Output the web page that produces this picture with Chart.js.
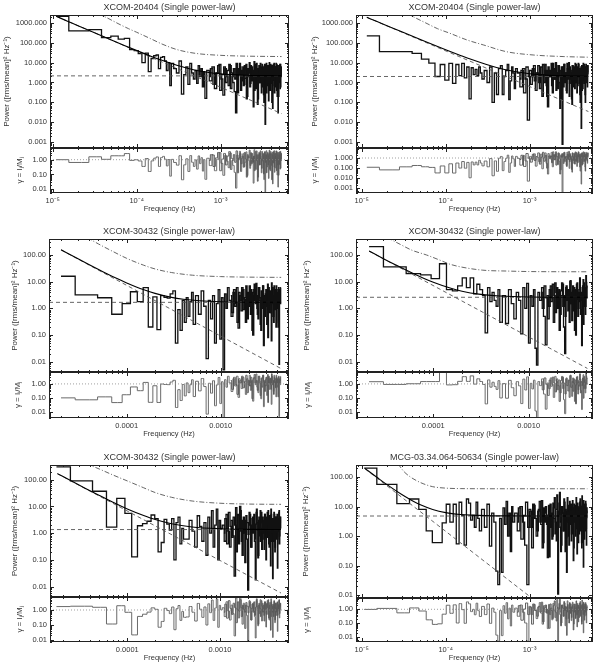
<!DOCTYPE html>
<html>
<head>
<meta charset="utf-8">
<title>Periodograms, single power-law fits</title>
<script src="https://cdn.jsdelivr.net/npm/chart.js@4.4.1/dist/chart.umd.min.js"></script>
<style>
  body { margin: 0; background: #fff; }
  #figure { position: relative; width: 600px; height: 664px; overflow: hidden; }
  #figure div { position: absolute; }
</style>
</head>
<body>
<div id="figure"></div>
<script>
// ---------- tick labels ----------
const powTicksWide = [0.001, 0.01, 0.1, 1, 10, 100, 1000];
const powLabelsWide = ['0.001', '0.010', '0.100', '1.000', '10.000', '100.000', '1000.000'];
const powTicks = [0.01, 0.1, 1, 10, 100];
const powLabels = ['0.01', '0.10', '1.00', '10.00', '100.00'];
const ratioTicksWide = [0.001, 0.01, 0.1, 1];
const ratioLabelsWide = ['0.001', '0.010', '0.100', '1.000'];
const ratioTicks = [0.01, 0.1, 1];
const ratioLabels = ['0.01', '0.10', '1.00'];
const freqTicksPow = [1e-5, 1e-4, 1e-3];
const freqLabelsPow = ['10⁻⁵', '10⁻⁴', '10⁻³'];
const freqTicksDec = [1e-4, 1e-3];
const freqLabelsDec = ['0.0001', '0.0010'];

// ---------- XCOM-20404 (left) ----------
// frequency bins: [first, last, stride] in units of the resolution df (Hz)
const p1Grid = [[1, 24, 1], [26, 60, 2], [64, 479, 5]];
const p1GridB = [[66, 481, 5]];
const p1Df = 1.1e-5;
const p1Power = [2100, 390, 450, 180, 210, 150, 165, 45, 40, 28, 10, 30, 3.5, 16, 22, 24, 5, 18, 20, 12, 4, 10, 0.7, 9,
  5, 3, 12, 0.26, 2.5, 6, 0.8, 9, 3, 1.5, 4, 0.9, 7, 2, 5, 0.6, 3.5, 0.16,
  4, 1.2, 6, 0.5, 3, 8, 1.5, 0.23, 5, 2,
  0.7, 7, 3, 1, 0.35, 0.03, 5, 2.5, 9, 0.4,
  3, 6, 0.8, 1.6, 8, 0.2, 4, 2, 0.6, 7,
  1.2, 3, 0.06, 11, 2, 0.5, 9, 3.5, 0.15, 5,
  1, 6, 2.5, 0.3, 8, 1.8, 4, 0.1, 7, 0.008,
  3, 9, 0.7, 2, 5, 0.12, 6, 1.5, 0.4, 8,
  2.5, 0.9, 7, 0.05, 4, 1.3, 9, 0.3, 3, 6,
  0.6, 2, 8, 0.2, 5, 0.03, 3, 7, 1, 4,
  0.5, 8, 2, 6];
const p1PowerB = [2, 5, 0.8, 3, 7, 0.4, 2.5, 6, 1, 4,
  8, 0.5, 2, 5, 1.5, 9, 0.3, 3, 6, 1.2,
  4, 0.7, 7, 2.5, 0.15, 5, 3, 10, 0.9, 2,
  6, 1.5, 4, 0.4, 8, 2, 5, 0.08, 3, 7,
  1, 9, 2.5, 0.6, 4, 6, 0.25, 3, 8, 1.5,
  5, 0.3, 2, 7, 1, 4, 10, 0.5, 3, 6,
  2, 0.1, 5, 1.5, 8, 3, 0.7, 6, 2, 4,
  9, 0.4, 3, 1, 7, 2.5, 0.2, 5, 1.2, 8,
  3, 0.6, 6, 2];
const p1Ratio = [1.0, 0.65, 1.57, 1.06, 1.84, 1.83, 2.6, 0.9, 0.99, 0.82, 0.35, 1.2, 0.16, 0.83, 1.27, 1.54, 0.35, 1.38, 1.67, 1.08, 0.38, 1.03, 0.077, 1.05,
  0.65, 0.43, 1.86, 0.044, 0.45, 1.15, 0.16, 1.9, 0.67, 0.35, 0.97, 0.23, 1.8, 0.54, 1.38, 0.17, 1.01, 0.047,
  1.25, 0.4, 2.07, 0.18, 1.09, 2.96, 0.57, 0.088, 1.95, 0.79,
  0.29, 2.86, 1.22, 0.41, 0.14, 0.012, 2.04, 1.02, 3.67, 0.16,
  1.28, 2.55, 0.34, 0.68, 3.4, 0.085, 1.7, 0.85, 0.26, 2.98,
  0.53, 1.32, 0.026, 4.8, 0.88, 0.22, 3.95, 1.54, 0.066, 2.19,
  0.45, 2.68, 1.12, 0.13, 3.57, 0.8, 1.79, 0.045, 3.13, 0.0036,
  1.36, 4.07, 0.32, 0.9, 2.26, 0.054, 2.71, 0.68, 0.18, 3.62,
  1.14, 0.41, 3.18, 0.023, 1.82, 0.59, 4.09, 0.14, 1.36, 2.73,
  0.27, 0.91, 3.64, 0.091, 2.27, 0.014, 1.36, 3.18, 0.45, 1.82,
  0.23, 3.64, 0.91, 2.73];
const p1RatioB = [0.88, 2.2, 0.35, 1.32, 3.08, 0.18, 1.1, 2.64, 0.44, 1.76,
  3.52, 0.22, 0.88, 2.2, 0.66, 3.96, 0.13, 1.32, 2.64, 0.53,
  1.76, 0.31, 3.08, 1.1, 0.066, 2.2, 1.32, 4.4, 0.4, 0.88,
  2.64, 0.66, 1.76, 0.18, 3.52, 0.88, 2.2, 0.035, 1.32, 3.08,
  0.44, 3.96, 1.1, 0.26, 1.76, 2.64, 0.11, 1.32, 3.52, 0.66,
  2.2, 0.13, 0.88, 3.08, 0.44, 1.76, 4.4, 0.22, 1.32, 2.64,
  0.88, 0.044, 2.2, 0.66, 3.52, 1.32, 0.31, 2.64, 0.88, 1.76,
  3.96, 0.18, 1.32, 0.44, 3.08, 1.1, 0.088, 2.2, 0.53, 3.52,
  1.32, 0.26, 2.64, 0.88];
const p1ModelF = [1.1e-5, 1.5e-5, 2e-5, 3e-5, 5e-5, 7e-5, 1e-4, 1.5e-4, 2e-4, 3e-4, 5e-4, 1e-3, 2e-3, 5.3e-3];
const p1ModelP = [2100, 1195, 710, 340, 136, 74, 40, 20.2, 12.9, 7.3, 4.15, 2.72, 2.31, 2.18];
const p1LawF = [1.1e-5, 5.3e-3];
const p1LawP = [2100, 0.0277];
const p1Noise = 2.15;
const p1ConfF = [3.5e-5, 4.5e-5, 6e-5, 8e-5, 1e-4, 1.5e-4, 2e-4, 3e-4, 5e-4, 1e-3, 2e-3, 5.3e-3];
const p1ConfP = [2800, 1700, 900, 500, 330, 150, 85, 45, 29, 23, 21, 20];

// ---------- XCOM-20404 (right) ----------
const p2Grid = [[1, 24, 1], [26, 60, 2], [64, 434, 5]];
const p2GridB = [[66, 431, 5]];
const p2Df = 1.15e-5;
const p2Power = [216, 35, 35, 29, 14.7, 9.3, 2.0, 8, 1.3, 9, 0.9, 8, 2.2, 9, 1.7, 6, 0.15, 5.5, 2.5, 4.5, 2.2, 6, 3, 1.5,
  4, 1.0, 6, 0.1, 3, 0.25, 5, 7, 0.25, 2, 4, 8, 0.14, 1.2, 6, 3, 0.5, 5,
  3, 0.6, 5, 1.5, 0.013, 4, 2, 7, 0.4, 3,
  1, 6, 0.2, 2.5, 8, 0.7, 0.06, 4, 2, 9,
  0.3, 5, 1.5, 10, 3, 0.5, 7, 2, 0.15, 6,
  0.0008, 4, 8, 1, 3, 0.4, 9, 2, 5, 0.2,
  6, 1.5, 3, 0.08, 7, 2.5, 0.6, 5, 9, 1,
  3, 0.3, 6, 2, 8, 0.9, 4, 0.1, 5, 0.005,
  7, 2, 0.5, 9, 3, 1.2, 6, 0.25, 4, 8,
  1.5, 5, 0.6, 7, 2.5];
const p2PowerB = [1.5, 4, 0.3, 6, 2, 0.8, 5, 1.2, 3, 7,
  0.5, 2.5, 8, 1, 4, 0.2, 6, 2, 3.5, 0.7,
  9, 1.5, 5, 0.4, 3, 7, 1, 0.05, 4, 2.5,
  6, 0.6, 8, 2, 3, 0.3, 5, 1.5, 10, 0.9,
  4, 2, 0.15, 7, 3, 1.2, 6, 0.5, 2.5, 8,
  1, 4, 0.7, 9, 2, 5, 0.25, 3, 6, 1.5,
  0.4, 7, 2.5, 4, 0.9, 8, 3, 0.1, 5, 2,
  6, 1, 3.5, 7];
const p2Ratio = [0.116, 0.063, 0.128, 0.175, 0.13, 0.112, 0.031, 0.157, 0.031, 0.26, 0.03, 0.31, 0.096, 0.44, 0.093, 0.36, 0.01, 0.4, 0.2, 0.38, 0.2, 0.58, 0.31, 0.16,
  0.49, 0.13, 0.88, 0.016, 0.51, 0.045, 0.96, 1.43, 0.053, 0.44, 0.93, 1.93, 0.035, 0.31, 1.6, 0.83, 0.14, 1.45,
  0.9, 0.19, 1.64, 0.51, 0.0046, 1.44, 0.74, 2.63, 0.15, 1.17,
  0.41, 2.45, 0.082, 1.02, 3.27, 0.29, 0.024, 1.63, 0.82, 3.67,
  0.13, 2.15, 0.64, 4.29, 1.29, 0.21, 3.0, 0.86, 0.064, 2.58,
  0.00036, 1.78, 3.56, 0.44, 1.33, 0.18, 4.0, 0.89, 2.22, 0.089,
  2.75, 0.69, 1.38, 0.037, 3.21, 1.15, 0.28, 2.29, 4.13, 0.46,
  1.41, 0.14, 2.82, 0.94, 3.76, 0.42, 1.88, 0.047, 2.35, 0.0023,
  3.33, 0.95, 0.24, 4.29, 1.43, 0.57, 2.86, 0.12, 1.9, 3.81,
  0.72, 2.4, 0.29, 3.37, 1.2];
const p2RatioB = [0.7, 1.88, 0.14, 2.82, 0.94, 0.38, 2.35, 0.56, 1.41, 3.29,
  0.24, 1.18, 3.76, 0.47, 1.88, 0.094, 2.82, 0.94, 1.65, 0.33,
  4.23, 0.7, 2.35, 0.19, 1.41, 3.29, 0.47, 0.024, 1.88, 1.18,
  2.82, 0.28, 3.76, 0.94, 1.41, 0.14, 2.35, 0.7, 4.7, 0.42,
  1.88, 0.94, 0.07, 3.29, 1.41, 0.56, 2.82, 0.24, 1.18, 3.76,
  0.47, 1.88, 0.33, 4.23, 0.94, 2.35, 0.12, 1.41, 2.82, 0.7,
  0.19, 3.29, 1.18, 1.88, 0.42, 3.76, 1.41, 0.047, 2.35, 0.94,
  2.82, 0.47, 1.65, 3.29];
const p2ModelF = [1.15e-5, 1.5e-5, 2e-5, 3e-5, 5e-5, 7e-5, 1e-4, 1.5e-4, 2e-4, 3e-4, 5e-4, 1e-3, 2e-3, 5e-3];
const p2ModelP = [1860, 1170, 708, 349, 144, 80.7, 44.2, 22.8, 14.5, 8.2, 4.52, 2.75, 2.22, 2.05];
const p2LawF = [1.15e-5, 5e-3];
const p2LawP = [1860, 0.035];
const p2Noise = 2.0;
const p2ConfF = [3.5e-5, 4.1e-5, 6e-5, 8e-5, 1.12e-4, 1.8e-4, 2.8e-4, 5.3e-4, 1.1e-3, 2.5e-3, 5e-3];
const p2ConfP = [2900, 2000, 900, 500, 295, 135, 77, 35, 24, 20, 18.5];

// ---------- XCOM-30432 (middle left) ----------
const p3Grid = [[1, 26, 1], [28, 60, 2], [63, 219, 3]];
const p3GridB = [[64, 217, 3]];
const p3Df = 2e-5;
const p3Power = [16, 3.2, 2.5, 0.6, 1.5, 4.2, 1.8, 6, 0.2, 2.7, 0.16, 3, 2.6, 2.4, 3.5, 4.5, 0.05, 0.9, 0.15, 2, 0.3, 2.5, 0.5, 1.8, 4, 0.25,
  3, 0.6, 4.5, 1.2, 0.013, 2, 0.4, 3, 0.05, 1.5, 5, 0.07, 2.5, 0.005, 3.5, 1, 6,
  2, 0.5, 4, 1.2, 6, 0.18, 3, 0.8, 5, 2.2,
  0.3, 4, 1.5, 7, 0.6, 3, 0.1, 5, 2, 8.7,
  1, 0.4, 6, 2.5, 0.15, 4, 7, 0.04, 3, 1.2,
  5, 0.25, 8, 2, 0.7, 4.5, 1.5, 0.06, 6, 3,
  0.5, 7, 2, 4, 0.2, 5, 1, 3.5, 0.3, 0.008,
  4, 1.5, 6];
const p3PowerB = [3, 0.7, 5, 1.5, 0.3, 4, 2, 6, 0.9, 2.5,
  7, 0.4, 3, 1.2, 5, 0.15, 4, 8, 1.5, 3,
  0.6, 6, 2, 0.25, 4.5, 1, 7, 2.5, 0.5, 3.5,
  5, 1.2, 0.08, 6, 2, 4, 0.7, 9, 1.5, 3,
  0.3, 5, 2.5, 0.9, 7, 1.8, 4, 0.2, 6, 2,
  3, 5];
const p3Ratio = [0.102, 0.074, 0.12, 0.047, 0.17, 0.61, 0.33, 1.28, 0.049, 0.74, 0.048, 0.98, 0.91, 0.89, 1.36, 1.81, 0.021, 0.39, 0.066, 0.91, 0.14, 1.18, 0.24, 0.88, 2.0, 0.126,
  1.55, 0.32, 2.42, 0.65, 0.0071, 1.11, 0.22, 1.69, 0.028, 0.85, 2.86, 0.04, 1.44, 0.0029, 2.02, 0.58, 3.49,
  1.18, 0.29, 2.35, 0.71, 3.53, 0.11, 1.76, 0.47, 2.94, 1.29,
  0.18, 2.35, 0.88, 4.12, 0.35, 1.76, 0.059, 2.94, 1.18, 5.1,
  0.59, 0.24, 3.53, 1.47, 0.088, 2.35, 4.12, 0.024, 1.76, 0.71,
  2.94, 0.15, 4.7, 1.18, 0.41, 2.65, 0.88, 0.035, 3.53, 1.76,
  0.29, 4.12, 1.18, 2.35, 0.12, 2.94, 0.59, 2.06, 0.18, 0.0047,
  2.35, 0.88, 3.53];
const p3RatioB = [1.76, 0.41, 2.94, 0.88, 0.18, 2.35, 1.18, 3.53, 0.53, 1.47,
  4.12, 0.24, 1.76, 0.71, 2.94, 0.088, 2.35, 4.7, 0.88, 1.76,
  0.35, 3.53, 1.18, 0.15, 2.65, 0.59, 4.12, 1.47, 0.29, 2.06,
  2.94, 0.71, 0.047, 3.53, 1.18, 2.35, 0.41, 5.3, 0.88, 1.76,
  0.18, 2.94, 1.47, 0.53, 4.12, 1.06, 2.35, 0.12, 3.53, 1.18,
  1.76, 2.94];
const p3ModelF = [2e-5, 3e-5, 4e-5, 6e-5, 8e-5, 1e-4, 1.5e-4, 2e-4, 3e-4, 4e-4, 6e-4, 1e-3, 2e-3, 4.4e-3];
const p3ModelP = [157, 73.5, 43.2, 20.9, 12.8, 9, 5.05, 3.65, 2.58, 2.2, 1.92, 1.77, 1.7, 1.685];
const p3LawF = [2e-5, 4.4e-3];
const p3LawP = [155, 0.0055];
const p3Noise = 1.68;
const p3ConfF = [3.8e-5, 5e-5, 7e-5, 1e-4, 1.5e-4, 2e-4, 3e-4, 5e-4, 1e-3, 2e-3, 4.4e-3];
const p3ConfP = [450, 260, 140, 75, 42, 30, 22, 17.5, 15.5, 14.8, 14.5];

// ---------- XCOM-30432 (middle right) ----------
const p4Grid = [[1, 24, 1], [26, 60, 2], [63, 195, 3]];
const p4GridB = [[64, 193, 3]];
const p4Df = 2.12e-5;
const p4Power = [205, 36, 20, 18, 13, 47, 5, 4.5, 7, 14, 6, 14, 3.5, 8, 5, 3, 0.12, 6, 1.8, 4, 2, 1.2, 5, 0.3,
  3, 0.27, 5, 1.5, 0.4, 4, 2, 0.11, 6, 1, 8.7, 0.05, 3, 1.2, 5, 0.032, 0.0075, 4,
  2, 6, 0.5, 0.043, 3, 1.2, 7, 2.5, 0.3, 9,
  4, 1, 5, 0.6, 3, 8, 0.2, 0.02, 6, 2,
  0.8, 4.5, 10, 1.5, 0.35, 7, 3, 0.15, 5, 2.2,
  9, 0.5, 4, 1.8, 6, 0.9, 0.04, 3, 12, 1.2,
  5, 0.6, 17, 2.5, 7];
const p4PowerB = [4, 1, 7, 2.5, 0.4, 5, 1.8, 8, 3, 0.7,
  6, 2, 0.15, 4.5, 9, 1.2, 3, 0.5, 7, 2,
  5, 0.3, 11, 1.5, 4, 0.8, 6, 2.5, 0.1, 8,
  3, 1, 5, 14, 0.6, 4, 2, 7, 0.25, 9,
  3.5, 1.2, 6, 10];
const p4Ratio = [1.44, 0.92, 1.03, 1.47, 1.47, 6.7, 0.85, 0.88, 1.52, 3.3, 1.51, 3.72, 0.97, 2.31, 1.49, 0.92, 0.038, 1.92, 0.59, 1.32, 0.67, 0.41, 1.71, 0.1,
  1.05, 0.096, 1.79, 0.54, 0.145, 1.46, 0.73, 0.04, 2.2, 0.37, 3.2, 0.018, 1.1, 0.44, 1.85, 0.012, 0.0028, 1.49,
  0.76, 2.29, 0.19, 0.016, 1.15, 0.46, 2.67, 0.95, 0.11, 3.44,
  1.53, 0.38, 1.91, 0.23, 1.15, 3.05, 0.076, 0.0076, 2.29, 0.76,
  0.31, 1.72, 3.82, 0.57, 0.13, 2.67, 1.15, 0.057, 1.91, 0.84,
  3.44, 0.19, 1.53, 0.69, 2.29, 0.34, 0.015, 1.15, 4.58, 0.46,
  1.91, 0.23, 6.5, 0.95, 2.67];
const p4RatioB = [1.52, 0.38, 2.66, 0.95, 0.15, 1.9, 0.68, 3.04, 1.14, 0.27,
  2.28, 0.76, 0.057, 1.71, 3.42, 0.46, 1.14, 0.19, 2.66, 0.76,
  1.9, 0.11, 4.18, 0.57, 1.52, 0.3, 2.28, 0.95, 0.038, 3.04,
  1.14, 0.38, 1.9, 5.3, 0.23, 1.52, 0.76, 2.66, 0.095, 3.42,
  1.33, 0.46, 2.28, 3.8];
const p4ModelF = [2.12e-5, 3e-5, 4e-5, 6e-5, 8e-5, 1e-4, 1.5e-4, 2e-4, 3e-4, 5e-4, 1e-3, 4.13e-3];
const p4ModelP = [142, 73, 43, 21, 13.2, 9.5, 5.75, 4.4, 3.42, 2.91, 2.68, 2.61];
const p4LawF = [2.12e-5, 4.13e-3];
const p4LawP = [140, 0.0056];
const p4Noise = 2.6;
const p4ConfF = [3.3e-5, 4.5e-5, 6e-5, 8.5e-5, 1.2e-4, 1.5e-4, 2e-4, 3.3e-4, 6e-4, 1e-3, 4.13e-3];
const p4ConfP = [450, 250, 150, 100, 62, 45, 35, 27, 25, 24, 23.5];

// ---------- XCOM-30432 (bottom left) ----------
const p5Grid = [[1, 24, 1], [26, 60, 2], [63, 264, 3]];
const p5GridB = [[64, 262, 3]];
const p5Df = 1.72e-5;
const p5Power = [300, 90, 37, 1.7, 20, 5.5, 0.13, 1.9, 2.3, 2.8, 4.8, 3.5, 0.2, 0.45, 3.3, 2.2, 1.3, 3.5, 0.1, 2.5, 4, 0.4, 1.5, 0.6,
  0.6, 3, 1.2, 0.3, 4.5, 1.8, 0.5, 2.5, 0.15, 4, 1, 7, 0.3, 2, 8, 0.1, 3, 1.5,
  2, 0.5, 5, 1.2, 0.3, 3, 0.8, 0.025, 9, 1.5,
  0.4, 10, 2, 0.15, 4, 1, 3, 0.6, 0.0075, 2.5,
  5, 0.3, 1.8, 4, 1.2, 0.5, 0.018, 6, 2.5, 0.12,
  3, 0.8, 7, 1.5, 0.25, 4, 2, 0.6, 5, 1,
  0.1, 3.5, 6, 0.7, 2, 0.3, 4.5, 1.2, 8, 0.5,
  2.5, 0.02, 3, 1, 5, 0.2, 1.8, 4, 0.6, 2.2,
  0.05, 3.5, 1.2, 6, 0.4, 2, 4, 1.5];
const p5PowerB = [1, 3.5, 0.4, 6, 1.8, 0.7, 4, 2, 0.2, 5,
  1.2, 7, 0.5, 3, 1.5, 0.08, 4.5, 2.5, 0.9, 6,
  2, 0.3, 3.5, 1, 5, 0.6, 2.2, 8, 1.3, 0.15,
  4, 1.8, 0.5, 6, 2.5, 1, 3, 0.25, 5, 1.5,
  0.7, 4, 2, 7, 0.4, 3, 1.2, 0.06, 5, 2.5,
  1, 3.5, 0.5, 6, 1.8, 0.3, 4, 2, 1, 5,
  0.6, 3, 1.5, 7, 0.8, 2.5, 4];
const p5Ratio = [1.7, 1.8, 1.52, 0.114, 1.94, 0.7, 0.021, 0.37, 0.52, 0.72, 1.39, 1.11, 0.069, 0.17, 1.3, 0.92, 0.57, 1.59, 0.047, 1.21, 2.0, 0.2, 0.79, 0.32,
  0.34, 1.71, 0.71, 0.18, 2.76, 1.12, 0.32, 1.6, 0.097, 2.61, 0.66, 4.67, 0.2, 1.35, 5.44, 0.068, 2.05, 1.03,
  1.43, 0.36, 3.57, 0.86, 0.21, 2.14, 0.57, 0.018, 6.4, 1.07,
  0.29, 7.1, 1.43, 0.11, 2.86, 0.71, 2.14, 0.43, 0.0054, 1.79,
  3.57, 0.21, 1.29, 2.86, 0.86, 0.36, 0.013, 4.29, 1.79, 0.086,
  2.14, 0.57, 5, 1.07, 0.18, 2.86, 1.43, 0.43, 3.57, 0.71,
  0.071, 2.5, 4.29, 0.5, 1.43, 0.21, 3.21, 0.86, 5.7, 0.36,
  1.79, 0.014, 2.14, 0.71, 3.57, 0.14, 1.29, 2.86, 0.43, 1.57,
  0.036, 2.5, 0.86, 4.29, 0.29, 1.43, 2.86, 1.07];
const p5RatioB = [0.71, 2.49, 0.28, 4.26, 1.28, 0.5, 2.84, 1.42, 0.14, 3.55,
  0.85, 4.97, 0.36, 2.13, 1.07, 0.057, 3.2, 1.78, 0.64, 4.26,
  1.42, 0.21, 2.49, 0.71, 3.55, 0.43, 1.56, 5.68, 0.92, 0.11,
  2.84, 1.28, 0.36, 4.26, 1.78, 0.71, 2.13, 0.18, 3.55, 1.07,
  0.5, 2.84, 1.42, 4.97, 0.28, 2.13, 0.85, 0.043, 3.55, 1.78,
  0.71, 2.49, 0.36, 4.26, 1.28, 0.21, 2.84, 1.42, 0.71, 3.55,
  0.43, 2.13, 1.07, 4.97, 0.57, 1.78, 2.84];
const p5ModelF = [1.76e-5, 2.5e-5, 3.5e-5, 5e-5, 7e-5, 1e-4, 1.5e-4, 2e-4, 3e-4, 5e-4, 1e-3, 2e-3, 4.55e-3];
const p5ModelP = [169, 89, 48.4, 25.7, 14.4, 8.1, 4.6, 3.24, 2.25, 1.71, 1.47, 1.395, 1.375];
const p5LawF = [1.76e-5, 4.55e-3];
const p5LawP = [168, 0.0058];
const p5Noise = 1.37;
const p5ConfF = [3.6e-5, 5e-5, 7e-5, 1e-4, 1.5e-4, 2e-4, 3e-4, 5e-4, 1e-3, 2e-3, 4.55e-3];
const p5ConfP = [400, 250, 150, 90, 50, 33, 22, 16, 13.2, 12.3, 12];

// ---------- MCG-03.34.064-50634 (bottom right) ----------
const p6Grid = [[1, 24, 1], [26, 60, 2], [64, 454, 5]];
const p6GridB = [[66, 451, 5]];
const p6Df = 1.07e-5;
const p6Power = [200, 56, 12.5, 18, 8, 1.5, 0.6, 0.6, 2.8, 12, 3, 12, 0.55, 14, 5, 0.5, 18, 13, 3.5, 5, 2, 14, 4, 1.5,
  8, 2, 12, 0.46, 6, 3, 0.066, 0.023, 4, 0.06, 9, 2.5, 15, 1, 6, 0.3, 10, 3,
  6, 1.5, 10, 3, 0.5, 0.023, 8, 2, 12, 4,
  1, 7, 15, 2.5, 0.4, 9, 3, 5, 0.19, 11,
  2, 6, 0.8, 13, 4, 1.2, 8, 25, 0.011, 5,
  30, 3, 0.5, 10, 6, 1.5, 14, 0.3, 7, 0.06,
  20, 4, 1, 9, 2.5, 12, 0.7, 6, 16, 3,
  0.4, 8, 5, 11, 1.8, 7, 0.25, 13, 3, 9,
  1.2, 6, 18, 2, 10, 0.6, 23, 4, 8, 0.09,
  5, 12, 1.5, 7, 15, 3, 0.5, 9,
  6];
const p6PowerB = [3, 9, 0.8, 5, 14, 2, 7, 0.4, 11, 4,
  1.5, 8, 3, 16, 0.6, 6, 10, 2.5, 5, 0.2,
  12, 4, 1, 9, 20, 3, 0.7, 7, 5, 13,
  2, 0.3, 10, 6, 1.5, 18, 4, 8, 0.9, 3,
  11, 6, 0.5, 15, 2.5, 7, 1.2, 9, 4, 0.15,
  12, 3, 6, 1, 20, 5, 2, 10, 0.6, 7,
  4, 14, 1.5, 8, 3, 0.4, 11, 5, 2, 16,
  6, 0.8, 9, 3, 12, 1.8, 7, 4];
const p6Ratio = [0.98, 1.16, 0.55, 1.26, 0.75, 0.17, 0.079, 0.087, 0.44, 1.98, 0.51, 2.12, 0.1, 2.6, 0.94, 0.095, 3.47, 2.52, 0.68, 0.98, 0.4, 2.78, 0.8, 0.3,
  1.63, 0.41, 2.45, 0.094, 1.22, 0.61, 0.013, 0.0047, 0.82, 0.012, 1.84, 0.51, 3.06, 0.2, 1.22, 0.061, 2.04, 0.61,
  1.22, 0.31, 2.04, 0.61, 0.1, 0.0047, 1.63, 0.41, 2.45, 0.82,
  0.21, 1.44, 3.09, 0.52, 0.082, 1.86, 0.62, 1.03, 0.039, 2.27,
  0.41, 1.24, 0.17, 2.7, 0.83, 0.25, 1.66, 5.2, 0.0023, 1.04,
  6.25, 0.63, 0.1, 2.08, 1.25, 0.31, 2.92, 0.063, 1.46, 0.0125,
  4.17, 0.83, 0.21, 1.88, 0.52, 2.5, 0.15, 1.25, 3.33, 0.63,
  0.083, 1.67, 1.04, 2.29, 0.375, 1.46, 0.052, 2.71, 0.63, 1.88,
  0.25, 1.25, 3.75, 0.42, 2.08, 0.125, 4.79, 0.83, 1.67, 0.019,
  1.04, 2.5, 0.31, 1.46, 3.13, 0.63, 0.1, 1.88,
  1.25];
const p6RatioB = [0.62, 1.86, 0.16, 1.03, 2.89, 0.41, 1.44, 0.082, 2.27, 0.82,
  0.31, 1.65, 0.62, 3.3, 0.12, 1.24, 2.06, 0.52, 1.03, 0.041,
  2.47, 0.82, 0.21, 1.86, 4.12, 0.62, 0.14, 1.44, 1.03, 2.68,
  0.41, 0.062, 2.06, 1.24, 0.31, 3.71, 0.82, 1.65, 0.19, 0.62,
  2.27, 1.24, 0.1, 3.09, 0.52, 1.44, 0.25, 1.86, 0.82, 0.031,
  2.47, 0.62, 1.24, 0.21, 4.12, 1.03, 0.41, 2.06, 0.12, 1.44,
  0.82, 2.89, 0.31, 1.65, 0.62, 0.082, 2.27, 1.03, 0.41, 3.3,
  1.24, 0.16, 1.86, 0.62, 2.47, 0.37, 1.44, 0.82];
const p6ModelF = [1.09e-5, 1.5e-5, 2e-5, 3e-5, 4e-5, 5e-5, 7e-5, 1e-4, 1.5e-4, 2e-4, 3e-4, 5e-4, 1e-3, 4.86e-3];
const p6ModelP = [196, 100, 55, 25.5, 15.8, 11.5, 8, 6.26, 5.4, 5.12, 4.93, 4.84, 4.81, 4.8];
const p6LawF = [1.09e-5, 2e-3];
const p6LawP = [191, 0.002];
const p6Noise = 4.8;
const p6ConfF = [2.7e-5, 3.2e-5, 3.8e-5, 4.5e-5, 5.5e-5, 7e-5, 1e-4, 1.5e-4, 5e-4, 4.86e-3];
const p6ConfP = [280, 150, 100, 75, 58, 47, 42, 40.5, 40, 40];

// ---------- layout (pixels) and axis ranges (log10) ----------
const PANELS = [
  { title: 'XCOM-20404 (Single power-law)', col: 0, top: 15, split: 148, bottom: 193, left: 50, right: 289,
    x: [-5.032, -2.187], y: [-3.285, 3.385], r: [-2.25, 0.79], powX: 7, ratioX: 20,
    yTicks: powTicksWide, yLabels: powLabelsWide, rTicks: ratioTicks, rLabels: ratioLabels, fTicks: freqTicksPow, fLabels: freqLabelsPow,
    grid: p1Grid, gridB: p1GridB, df: p1Df, power: p1Power, powerB: p1PowerB, ratio: p1Ratio, ratioB: p1RatioB,
    modelF: p1ModelF, modelP: p1ModelP, lawF: p1LawF, lawP: p1LawP, noise: p1Noise, confF: p1ConfF, confP: p1ConfP },
  { title: 'XCOM-20404 (Single power-law)', col: 1, top: 15, split: 148, bottom: 193, left: 356, right: 593,
    x: [-5.068, -2.246], y: [-3.285, 3.385], r: [-3.535, 1.01], powX: 15, ratioX: 15,
    yTicks: powTicksWide, yLabels: powLabelsWide, rTicks: ratioTicksWide, rLabels: ratioLabelsWide, fTicks: freqTicksPow, fLabels: freqLabelsPow,
    grid: p2Grid, gridB: p2GridB, df: p2Df, power: p2Power, powerB: p2PowerB, ratio: p2Ratio, ratioB: p2RatioB,
    modelF: p2ModelF, modelP: p2ModelP, lawF: p2LawF, lawP: p2LawP, noise: p2Noise, confF: p2ConfF, confP: p2ConfP },
  { title: 'XCOM-30432 (Single power-law)', col: 0, top: 239, split: 372, bottom: 418, left: 49, right: 289,
    x: [-4.827, -2.273], y: [-2.386, 2.6], r: [-2.424, 0.848], powX: 15, ratioX: 18,
    yTicks: powTicks, yLabels: powLabels, rTicks: ratioTicks, rLabels: ratioLabels, fTicks: freqTicksDec, fLabels: freqLabelsDec,
    grid: p3Grid, gridB: p3GridB, df: p3Df, power: p3Power, powerB: p3PowerB, ratio: p3Ratio, ratioB: p3RatioB,
    modelF: p3ModelF, modelP: p3ModelP, lawF: p3LawF, lawP: p3LawP, noise: p3Noise, confF: p3ConfF, confP: p3ConfP },
  { title: 'XCOM-30432 (Single power-law)', col: 1, top: 239, split: 372, bottom: 418, left: 356, right: 593,
    x: [-4.811, -2.325], y: [-2.386, 2.6], r: [-2.424, 0.848], powX: 7, ratioX: 8,
    yTicks: powTicks, yLabels: powLabels, rTicks: ratioTicks, rLabels: ratioLabels, fTicks: freqTicksDec, fLabels: freqLabelsDec,
    grid: p4Grid, gridB: p4GridB, df: p4Df, power: p4Power, powerB: p4PowerB, ratio: p4Ratio, ratioB: p4RatioB,
    modelF: p4ModelF, modelP: p4ModelP, lawF: p4LawF, lawP: p4LawP, noise: p4Noise, confF: p4ConfF, confP: p4ConfP },
  { title: 'XCOM-30432 (Single power-law)', col: 0, top: 465, split: 597, bottom: 642, left: 50, right: 289,
    x: [-4.834, -2.256], y: [-2.385, 2.55], r: [-2.155, 0.875], powX: 15, ratioX: 20,
    yTicks: powTicks, yLabels: powLabels, rTicks: ratioTicks, rLabels: ratioLabels, fTicks: freqTicksDec, fLabels: freqLabelsDec,
    grid: p5Grid, gridB: p5GridB, df: p5Df, power: p5Power, powerB: p5PowerB, ratio: p5Ratio, ratioB: p5RatioB,
    modelF: p5ModelF, modelP: p5ModelP, lawF: p5LawF, lawP: p5LawP, noise: p5Noise, confF: p5ConfF, confP: p5ConfP },
  { title: 'MCG-03.34.064-50634 (Single power-law)', col: 1, top: 465, split: 598, bottom: 642, left: 356, right: 593,
    x: [-5.068, -2.246], y: [-2.09, 2.405], r: [-2.387, 0.825], powX: 6, ratioX: 7,
    yTicks: powTicks, yLabels: powLabels, rTicks: ratioTicks, rLabels: ratioLabels, fTicks: freqTicksPow, fLabels: freqLabelsPow,
    grid: p6Grid, gridB: p6GridB, df: p6Df, power: p6Power, powerB: p6PowerB, ratio: p6Ratio, ratioB: p6RatioB,
    modelF: p6ModelF, modelP: p6ModelP, lawF: p6LawF, lawP: p6LawP, noise: p6Noise, confF: p6ConfF, confP: p6ConfP }
];

const FONT = "'Liberation Sans', Arial, sans-serif";
const INK = '#333';

function expand(grid) {
  const ks = [];
  for (const [a, b, step] of grid) for (let k = a; k <= b; k += step) ks.push(k);
  return ks;
}
function binned(grid, df, values) {
  const ks = expand(grid);
  return values.map((v, i) => ({ x: ks[i] * df, y: v }));
}
function pairs(xs, ys) { return xs.map((x, i) => ({ x, y: ys[i] })); }

function line(data, color, width, dash, smooth) {
  return {
    data, borderColor: color, borderWidth: width, borderDash: dash || [],
    pointRadius: 0, fill: false, tension: 0,
    cubicInterpolationMode: smooth ? 'monotone' : 'default'
  };
}
function steps(data, color, width) {
  return Object.assign(line(data, color, width), { stepped: 'middle' });
}

// IDL style: box round the plot, ticks pointing inwards on all four sides
function logMarks(min, max) {
  const out = [];
  for (let e = Math.floor(Math.log10(min)); e <= Math.ceil(Math.log10(max)); e++) {
    for (let m = 1; m <= 9; m++) {
      const v = m * Math.pow(10, e);
      if (v >= min && v <= max) out.push([v, m === 1]);
    }
  }
  return out;
}
const frame = {
  id: 'frame',
  afterDatasetsDraw(chart) {
    const { ctx, chartArea: a, scales: { x, y } } = chart;
    ctx.save();
    ctx.strokeStyle = '#222';
    ctx.lineWidth = 1;
    ctx.setLineDash([]);
    ctx.beginPath();
    logMarks(x.min, x.max).forEach(([v, major]) => {
      const px = Math.round(x.getPixelForValue(v)) + 0.5;
      const len = major ? 4 : 2;
      ctx.moveTo(px, a.bottom); ctx.lineTo(px, a.bottom - len);
      ctx.moveTo(px, a.top); ctx.lineTo(px, a.top + len);
    });
    logMarks(y.min, y.max).forEach(([v, major]) => {
      const py = Math.round(y.getPixelForValue(v)) + 0.5;
      const len = major ? 4 : 2;
      ctx.moveTo(a.left, py); ctx.lineTo(a.left + len, py);
      ctx.moveTo(a.right, py); ctx.lineTo(a.right - len, py);
    });
    ctx.stroke();
    ctx.strokeRect(a.left + 0.5, a.top + 0.5, a.right - a.left - 1, a.bottom - a.top - 1);
    ctx.restore();
  }
};

function yAxis(range, ticks, labels, width, title, centre) {
  return {
    type: 'logarithmic', min: 10 ** range[0], max: 10 ** range[1],
    afterFit: s => { s.width = width; s.paddingTop = 0; s.paddingBottom = 0; },
    afterBuildTicks: s => { s.ticks = ticks.map(v => ({ value: v })); },
    grid: { display: false, drawTicks: false }, border: { display: false },
    ticks: { autoSkip: false, padding: 3, color: INK, font: { family: FONT, size: 7.5 }, callback: (v, i) => labels[i] },
    title: { display: true, text: title, color: INK, font: { family: FONT, size: 8 }, padding: { top: Math.max(0, centre - 4.8), bottom: 0 } }
  };
}

function options(padRight, scales, titleText) {
  return {
    animation: false, responsive: false, maintainAspectRatio: false, events: [], parsing: false,
    layout: { padding: { left: 0, right: padRight, top: 0, bottom: 0 } },
    plugins: {
      legend: { display: false }, tooltip: { enabled: false },
      title: titleText
        ? { display: true, fullSize: false, text: titleText, color: INK, font: { family: FONT, size: 9, weight: 'normal' }, padding: { top: 2.2, bottom: 2 } }
        : { display: false }
    },
    scales
  };
}

function addCanvas(left, top, w, h) {
  const box = document.createElement('div');
  box.style.left = left + 'px';
  box.style.top = top + 'px';
  const c = document.createElement('canvas');
  c.width = w; c.height = h;
  c.style.width = w + 'px'; c.style.height = h + 'px';
  box.appendChild(c);
  document.getElementById('figure').appendChild(box);
  return c;
}

PANELS.forEach(P => {
  const x0 = P.col * 300;
  const axisW = P.left - x0;
  const padRight = x0 + 300 - P.right;
  const xmin = 10 ** P.x[0], xmax = 10 ** P.x[1];
  const spec = binned(P.grid, P.df, P.power);
  const fEnd = spec[spec.length - 1].x;

  const mainTop = P.top - 15;
  new Chart(addCanvas(x0, mainTop, 300, P.split - mainTop), {
    type: 'line',
    data: { datasets: [
      line(pairs(P.modelF, P.modelP), '#000', 1.1, [], true),
      line(pairs(P.lawF, P.lawP), '#555', 0.9, [4, 3]),
      line([{ x: xmin, y: P.noise }, { x: fEnd, y: P.noise }], '#555', 0.9, [4, 3]),
      line(pairs(P.confF, P.confP), '#555', 0.9, [5, 2, 1, 2], true),
      steps(binned(P.gridB, P.df, P.powerB), '#111', 1.3),
      steps(spec, '#111', 1.3)
    ] },
    options: options(padRight, {
      x: { type: 'logarithmic', min: xmin, max: xmax, display: false },
      y: yAxis(P.y, P.yTicks, P.yLabels, axisW, 'Power ([rms/mean]² Hz⁻¹)', P.powX)
    }, P.title),
    plugins: [frame]
  });

  new Chart(addCanvas(x0, P.split, 300, P.bottom - P.split + 22), {
    type: 'line',
    data: { datasets: [
      line([{ x: xmin, y: 1 }, { x: xmax, y: 1 }], '#888', 0.8, [1, 2]),
      steps(binned(P.gridB, P.df, P.ratioB), '#5a5a5a', 1),
      steps(binned(P.grid, P.df, P.ratio), '#6a6a6a', 1)
    ] },
    options: options(padRight, {
      x: {
        type: 'logarithmic', min: xmin, max: xmax,
        afterFit: s => { s.height = 22; s.paddingLeft = 0; s.paddingRight = 0; },
        afterBuildTicks: s => { s.ticks = P.fTicks.map(v => ({ value: v })); },
        grid: { display: false, drawTicks: false }, border: { display: false },
        ticks: { autoSkip: false, maxRotation: 0, minRotation: 0, padding: 3, color: INK, font: { family: FONT, size: 7.5 }, callback: (v, i) => P.fLabels[i] },
        title: { display: true, text: 'Frequency (Hz)', color: INK, font: { family: FONT, size: 7.5 }, padding: { top: 0, bottom: 1.5 } }
      },
      y: yAxis(P.r, P.rTicks, P.rLabels, axisW, 'γ = Iⱼ/Mⱼ', P.ratioX)
    }, null),
    plugins: [frame]
  });
});
</script>
</body>
</html>
